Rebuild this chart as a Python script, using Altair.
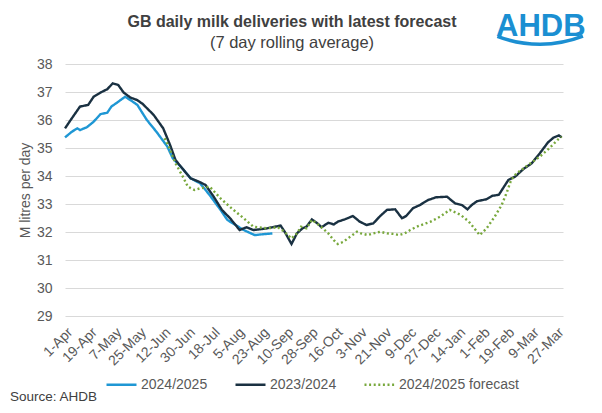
import altair as alt
import pandas as pd

# ---- data (days since 1-Apr, M litres per day) ----
tick_labels = ["1-Apr", "19-Apr", "7-May", "25-May", "12-Jun", "30-Jun", "18-Jul",
               "5-Aug", "23-Aug", "10-Sep", "28-Sep", "16-Oct", "3-Nov", "21-Nov",
               "9-Dec", "27-Dec", "14-Jan", "1-Feb", "19-Feb", "9-Mar", "27-Mar"]
tick_days = [i * 18 for i in range(len(tick_labels))]

series_names = ["2024/2025", "2023/2024", "2024/2025 forecast"]
series_colors = ["#1f97d4", "#1a3142", "#78a83c"]

blue_days = [0, 5, 9, 11, 16, 21, 26, 31, 34, 39, 44, 48, 53, 60, 67, 75, 79, 86, 92, 99,
             106, 114, 119, 123, 131, 139, 145, 152]
blue_vals = [35.38, 35.58, 35.70, 35.64, 35.74, 35.94, 36.21, 36.26, 36.48, 36.65, 36.83,
             36.71, 36.54, 36.00, 35.58, 35.05, 34.63, 34.27, 33.92, 33.74, 33.32, 32.79,
             32.43, 32.31, 32.07, 31.89, 31.92, 31.95]

dark_days = [0, 5, 11, 17, 21, 26, 31, 35, 39, 43, 48, 53, 57, 65, 72, 77, 81, 86, 92, 98,
             103, 109, 115, 121, 128, 133, 138, 148, 158, 161, 166, 170, 174, 177, 181, 185,
             188, 193, 197, 200, 205, 211, 216, 221, 226, 231, 236, 242, 247, 250, 255, 260,
             266, 272, 280, 286, 291, 295, 298, 302, 309, 313, 318, 321, 325, 330, 336, 342,
             348, 354, 358, 362, 364]
dark_vals = [35.70, 36.06, 36.48, 36.54, 36.83, 36.98, 37.10, 37.31, 37.25, 36.98, 36.80,
             36.71, 36.57, 36.18, 35.70, 35.11, 34.57, 34.27, 33.92, 33.80, 33.68, 33.26,
             32.79, 32.49, 32.07, 32.17, 32.07, 32.13, 32.23, 32.01, 31.57, 31.95, 32.13,
             32.19, 32.45, 32.31, 32.17, 32.33, 32.27, 32.37, 32.45, 32.57, 32.37, 32.25,
             32.31, 32.57, 32.79, 32.81, 32.49, 32.57, 32.85, 32.96, 33.14, 33.24, 33.26,
             33.02, 32.96, 32.81, 32.96, 33.10, 33.17, 33.29, 33.33, 33.56, 33.86, 33.98,
             34.25, 34.45, 34.81, 35.20, 35.37, 35.45, 35.38]

fc_days = [73, 76, 81, 87, 90, 95, 99, 106, 114, 122, 131, 138, 148, 156, 159, 162, 166,
           170, 173, 177, 181, 184, 188, 193, 197, 200, 204, 209, 214, 217, 222, 226, 231,
           236, 241, 245, 249, 253, 257, 260, 268, 275, 282, 290, 296, 300, 304, 309, 315,
           320, 324, 327, 331, 336, 341, 348, 355, 361, 364]
fc_vals = [35.35, 35.05, 34.45, 33.92, 33.62, 33.50, 33.56, 33.62, 33.20, 32.85, 32.49,
           32.19, 32.13, 32.17, 32.07, 31.95, 31.77, 31.95, 32.19, 32.13, 32.43, 32.33,
           32.17, 31.95, 31.71, 31.57, 31.65, 31.83, 32.01, 31.95, 31.89, 31.95, 32.01,
           31.95, 31.93, 31.89, 31.95, 32.07, 32.17, 32.23, 32.37, 32.55, 32.79, 32.61,
           32.37, 32.13, 31.89, 32.13, 32.55, 32.96, 33.44, 33.86, 34.10, 34.27, 34.45,
           34.69, 34.99, 35.29, 35.40]

y_ticks = list(range(29, 39))

TITLE = "GB daily milk deliveries with latest forecast"
SUBTITLE = "(7 day rolling average)"
SOURCE = "Source: AHDB"
LOGO = "AHDB"

FONT = "Liberation Sans, Arial, sans-serif"

rows = []
for name, days, vals in [(series_names[0], blue_days, blue_vals),
                         (series_names[1], dark_days, dark_vals),
                         (series_names[2], fc_days, fc_vals)]:
    for d, v in zip(days, vals):
        rows.append({"series": name, "day": d, "value": v})
df = pd.DataFrame(rows)

label_array = "[" + ",".join("'%s'" % s for s in tick_labels) + "]"

x_enc = alt.X("day:Q", scale=alt.Scale(domain=[0, 365], nice=False, zero=False),
              axis=alt.Axis(values=tick_days, labelExpr=label_array + "[round(datum.value/18)]",
                            labelAngle=-45, labelAlign="right", labelBaseline="top",
                            labelPadding=9, labelFontSize=14, labelColor="#595959",
                            labelFont=FONT, grid=False, domain=False, ticks=False,
                            title=None, labelOverlap=False))
y_enc = alt.Y("value:Q", scale=alt.Scale(domain=[29, 38], nice=False, zero=False),
              axis=alt.Axis(values=y_ticks, grid=True, gridColor="#d9d9d9", gridWidth=1,
                            domain=False, ticks=False, labelPadding=13, labelFontSize=14,
                            labelColor="#595959", labelFont=FONT,
                            title="M litres per day", titleFont=FONT, titleFontSize=14,
                            titleFontWeight="normal", titleColor="#595959", titlePadding=4))
color_enc = alt.Color("series:N",
                      scale=alt.Scale(domain=series_names, range=series_colors),
                      legend=alt.Legend(title=None, orient="none", direction="horizontal",
                                        legendX=40, legendY=304, symbolType="stroke",
                                        symbolSize=900, symbolStrokeWidth=2.5,
                                        labelFontSize=14, labelFont=FONT,
                                        labelColor="#595959", labelOffset=3,
                                        columnPadding=22))
dash_enc = alt.StrokeDash("series:N",
                          scale=alt.Scale(domain=series_names,
                                          range=[[1, 0], [1, 0], [2, 2.6]]),
                          legend=None)

base = alt.Chart(df).mark_line(strokeWidth=2.4).encode(
    x=x_enc, y=y_enc, color=color_enc, strokeDash=dash_enc)

layers = [base.transform_filter(alt.datum.series == s) for s in series_names]


def text_layer(txt, x, y, size, color, weight="normal", align="center"):
    return alt.Chart(pd.DataFrame({"t": [txt]})).mark_text(
        fontSize=size, font=FONT, fontWeight=weight, color=color, align=align,
        baseline="alphabetic").encode(text="t:N", x=alt.value(x), y=alt.value(y))


title_l = text_layer(TITLE, 227, -37, 16, "#404040", "bold")
sub_l = text_layer(SUBTITLE, 227, -16, 16.5, "#404040")
src_l = text_layer(SOURCE, -55, 337, 13.5, "#404040", align="left")
logo_l = text_layer(LOGO, 431, -28, 31, "#1b8fd2", "bold", align="left")
wave_l = alt.Chart(pd.DataFrame({"t": [LOGO]})).mark_arc(color="#1b8fd2").encode(
    x=alt.value(475), y=alt.value(-138), theta=alt.value(2.77), theta2=alt.value(3.51),
    radius=alt.value(120), radius2=alt.value(116.5))

chart = alt.layer(*layers, title_l, sub_l, src_l, logo_l, wave_l).properties(
    width=498, height=252,
    padding={"left": 57, "top": 56, "right": 31, "bottom": 89},
    autosize=alt.AutoSizeParams(type="none"),
    background="white",
).configure_view(stroke=None)

chart.save("out.html", embed_options={"renderer": "svg", "actions": False})
